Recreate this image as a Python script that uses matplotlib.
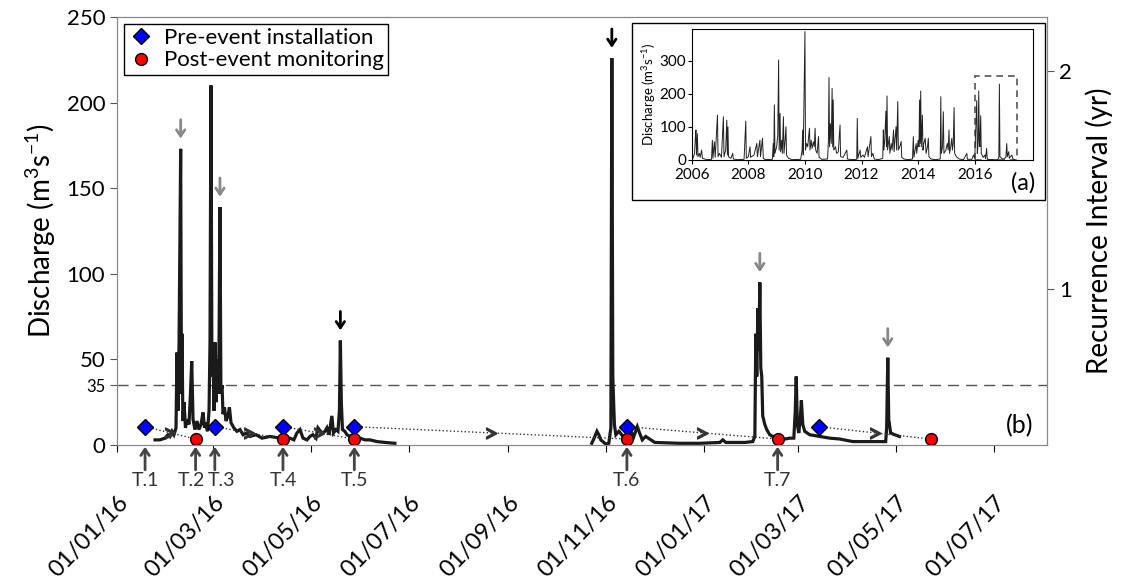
import matplotlib
matplotlib.use('Agg')
from matplotlib import pyplot as plt
from matplotlib.lines import Line2D
from matplotlib.patches import Rectangle
import matplotlib.dates as mdates
import numpy as np
import pandas as pd

plt.rcParams['font.family'] = ['Lato', 'DejaVu Sans']
plt.rcParams['mathtext.default'] = 'regular'

START = pd.Timestamp('2016-01-01')

# discharge record (days since 01/01/16, m3/s) - first wet season
wet_days = [23.7, 26.8, 29.9, 31.8, 33.0, 34.3, 35.5, 36.8, 37.4, 38.0, 38.7, 39.7,
            40.2, 40.5, 41.1, 41.8, 42.7, 43.6, 44.9, 45.8, 46.6, 47.4, 48.6, 49.9,
            51.1, 52.4, 53.6, 54.6, 55.5, 56.4, 57.4, 58.0, 58.6, 59.2, 59.9, 60.5,
            61.1, 61.7, 62.3, 63.0, 63.6, 64.2, 64.8, 65.5, 66.1, 67.0, 68.0, 69.2,
            70.1, 71.1, 72.9, 74.8, 76.7, 78.6, 81.0, 82.9, 86.7, 90.4, 95.4, 101.6,
            107.9, 110.3, 112.2, 114.1, 116.0, 118.5, 120.3, 122.2, 124.1, 125.3,
            127.8, 129.7, 130.9, 132.2, 134.0, 135.0, 136.5, 137.8, 138.7, 139.3,
            139.9, 140.6, 142.1, 143.4, 145.3, 147.1, 149.6, 151.5, 154.6, 157.7,
            162.1, 167.1, 173.3]
wet_q = [3, 3, 4, 6, 5, 8, 6, 10, 54, 20, 60, 173,
         30, 65, 14, 25, 10, 15, 12, 30, 49, 15, 9, 14,
         9, 12, 19, 10, 13, 8, 20, 60, 210, 40, 55, 20,
         60, 25, 50, 30, 55, 139, 30, 35, 18, 22, 14, 17,
         22, 13, 10, 8, 9, 6, 7, 5, 6, 4, 5, 4,
         4, 3, 7, 9, 4, 3, 5, 6, 4, 10,
         7, 8, 10, 6, 17, 7, 9, 8, 20, 61,
         25, 9, 8, 6, 5, 6, 4, 4, 3, 3,
         2, 1.5, 1]

# second season
late_days = [296.1, 298.0, 299.3, 300.5, 301.7, 303.0, 304.9, 306.7, 308.0, 308.6,
             309.2, 310.2, 311.1, 313.0, 314.8, 316.7, 318.6, 320.4, 322.3, 324.5,
             325.9, 327.6, 329.7, 335.4, 351.0, 363.5, 376.0, 377.8, 379.7, 391.5,
             396.5, 397.8, 398.4, 399.0, 399.7, 400.3, 400.9, 401.5, 402.1, 402.7,
             404.0, 405.2, 407.1, 409.0, 412.1, 416.5, 419.6, 422.1, 423.0, 423.6,
             424.3, 425.2, 426.1, 426.8, 427.7, 428.9, 432.0, 438.3, 444.5, 450.7,
             458.9, 469.5, 479.4, 480.0, 480.7, 481.3, 482.5, 485.0, 488.0]
late_q = [1, 5, 8, 6, 3, 2, 0.5, 1, 10, 226,
          40, 12, 6, 8, 6, 3, 6, 8, 5, 10.7,
          7, 3, 5, 1.5, 1, 1, 1.5, 3, 1.5, 1.5,
          2, 5, 65, 40, 80, 55, 95, 45, 40, 17,
          12, 9, 6, 5, 3.5, 3.5, 4, 4, 20, 40,
          12, 7, 15, 26, 12, 8, 6, 5, 4, 3.5,
          2, 2, 2, 10, 51, 15, 7, 6, 5]

install_days = [17.5, 61, 103.5, 148, 318, 437.7]
monitor_days = [49, 103.5, 148, 318, 412, 507.5]
install_q = 10.7
monitor_q = 3.5

survey_names = ['T.1', 'T.2', 'T.3', 'T.4', 'T.5', 'T.6', 'T.7']
survey_days = [17.5, 49, 61, 103.5, 148, 318, 412]

peak_days = [39.7, 64.2, 139.3, 308.6, 400.9, 480.7]
peak_q = [173, 139, 61, 226, 95, 51]
peak_colors = ['#888888', '#888888', 'black', 'black', '#888888', '#888888']

# long record for the inset (decimal year, m3/s)
inset_year = [2006.00, 2006.05, 2006.10, 2006.13, 2006.15, 2006.17, 2006.20, 2006.22, 2006.27, 2006.30,
              2006.35, 2006.38, 2006.45, 2006.55, 2006.70, 2006.73, 2006.75, 2006.80, 2006.83, 2006.91,
              2006.93, 2006.98, 2007.05, 2007.12, 2007.14, 2007.20, 2007.24, 2007.26, 2007.28, 2007.30,
              2007.38, 2007.45, 2007.47, 2007.60, 2007.85, 2007.91, 2007.93, 2008.00, 2008.06, 2008.08,
              2008.20, 2008.30, 2008.32, 2008.41, 2008.43, 2008.50, 2008.53, 2008.60, 2008.85, 2008.88,
              2008.90, 2008.92, 2008.94, 2009.00, 2009.04, 2009.07, 2009.09, 2009.12, 2009.14, 2009.18,
              2009.20, 2009.24, 2009.26, 2009.30, 2009.33, 2009.35, 2009.42, 2009.55, 2009.85, 2009.90,
              2009.92, 2009.94, 2010.00, 2010.02, 2010.06, 2010.10, 2010.13, 2010.16, 2010.18, 2010.22,
              2010.25, 2010.30, 2010.33, 2010.36, 2010.38, 2010.43, 2010.48, 2010.50, 2010.60, 2010.80,
              2010.83, 2010.85, 2010.87, 2010.90, 2010.93, 2010.96, 2010.98, 2011.00, 2011.02, 2011.08,
              2011.12, 2011.18, 2011.24, 2011.26, 2011.35, 2011.48, 2011.50, 2011.65, 2011.83, 2011.85,
              2011.87, 2011.92, 2011.95, 2011.97, 2012.05, 2012.10, 2012.21, 2012.23, 2012.33, 2012.35,
              2012.40, 2012.45, 2012.60, 2012.75, 2012.77, 2012.79, 2012.82, 2012.86, 2012.88, 2012.90,
              2012.92, 2012.98, 2013.00, 2013.05, 2013.08, 2013.13, 2013.15, 2013.18, 2013.22, 2013.24,
              2013.28, 2013.30, 2013.35, 2013.40, 2013.42, 2013.50, 2013.65, 2013.80, 2013.83, 2013.85,
              2013.93, 2013.95, 2014.00, 2014.03, 2014.05, 2014.07, 2014.09, 2014.11, 2014.15, 2014.17,
              2014.20, 2014.25, 2014.28, 2014.33, 2014.36, 2014.38, 2014.45, 2014.60, 2014.78, 2014.80,
              2014.82, 2014.86, 2014.89, 2014.91, 2014.98, 2015.03, 2015.06, 2015.09, 2015.11, 2015.15,
              2015.19, 2015.21, 2015.24, 2015.27, 2015.29, 2015.35, 2015.45, 2015.60, 2015.72, 2015.74,
              2015.90, 2015.95, 2016.00, 2016.07, 2016.09, 2016.12, 2016.14, 2016.16, 2016.18, 2016.21,
              2016.23, 2016.30, 2016.36, 2016.38, 2016.42, 2016.44, 2016.48, 2016.80, 2016.85, 2016.87,
              2016.89, 2016.95, 2017.00, 2017.10, 2017.13, 2017.15, 2017.20, 2017.22, 2017.31, 2017.35,
              2017.40]
inset_q = [10, 5, 20, 70, 91, 15, 80, 10, 20, 8,
           30, 5, 3, 1, 2, 60, 5, 55, 8, 136,
           10, 20, 8, 131, 10, 30, 121, 15, 100, 10,
           5, 20, 3, 1, 2, 118, 5, 10, 40, 8,
           15, 50, 10, 60, 10, 66, 5, 1, 2, 50,
           10, 167, 20, 40, 75, 303, 30, 141, 25, 60,
           20, 131, 20, 60, 101, 15, 5, 1, 2, 30,
           91, 15, 389, 30, 50, 40, 70, 96, 30, 60,
           35, 55, 40, 96, 30, 20, 71, 8, 2, 3,
           60, 250, 40, 110, 50, 217, 40, 182, 30, 40,
           20, 25, 106, 10, 8, 30, 3, 1, 2, 126,
           5, 20, 30, 8, 15, 8, 40, 10, 71, 10,
           20, 3, 1, 5, 91, 30, 60, 148, 40, 194,
           30, 71, 20, 50, 30, 91, 25, 60, 101, 30,
           177, 30, 40, 56, 8, 3, 1, 3, 71, 8,
           50, 20, 60, 40, 182, 50, 209, 40, 136, 30,
           50, 66, 20, 40, 66, 10, 3, 1, 3, 192,
           20, 40, 146, 20, 30, 50, 30, 91, 20, 40,
           66, 30, 50, 159, 20, 10, 3, 1, 20, 2,
           2, 15, 5, 180, 20, 50, 209, 60, 40, 134,
           20, 8, 15, 5, 35, 5, 1, 1, 5, 230,
           10, 5, 2, 8, 50, 10, 25, 5, 15, 3,
           1]


def to_date(days):
    return START + pd.to_timedelta(np.asarray(days, dtype=float), unit='D')


fig = plt.figure(figsize=(11.24, 5.83), dpi=100)
ax = fig.add_axes([0.1041, 0.2367, 0.8274, 0.7341])

line_kw = dict(color='#1a1a1a', lw=2.3, solid_joinstyle='miter', zorder=3)
ax.plot(to_date(wet_days), wet_q, **line_kw)
ax.plot(to_date(late_days), late_q, **line_kw)

ax.axhline(35, color='#555555', lw=1, dashes=(8, 5), zorder=1)

# dotted links installation -> monitoring
for d0, d1 in zip(install_days, monitor_days):
    ax.plot(to_date([d0, d1]), [install_q, monitor_q], ls=':', color='#333333', lw=1, zorder=4)
    dm = (d0 + d1) / 2
    ax.plot(to_date([dm]), [(install_q + monitor_q) / 2], marker='$>$', ms=8,
            color='#333333', ls='none', zorder=4)

ax.plot(to_date(install_days), [install_q] * len(install_days), ls='none', marker='D',
        ms=8, mfc='#0000ff', mec='black', mew=1, zorder=5)
ax.plot(to_date(monitor_days), [monitor_q] * len(monitor_days), ls='none', marker='o',
        ms=8.5, mfc='#ff0000', mec='black', mew=1, zorder=5)

# arrows over the flood peaks
for d, q, c in zip(peak_days, peak_q, peak_colors):
    ax.annotate('', xy=(to_date([d])[0], q + 6), xytext=(to_date([d])[0], q + 17),
                arrowprops=dict(arrowstyle='->,head_width=0.3,head_length=0.45',
                                color=c, lw=2, shrinkA=0, shrinkB=0))

# survey arrows below the axis
label_shift = {'T.2': -3, 'T.3': 5}
for name, d in zip(survey_names, survey_days):
    x = to_date([d])[0]
    ax.annotate('', xy=(x, -0.004), xytext=(x, -0.058),
                xycoords=('data', 'axes fraction'), textcoords=('data', 'axes fraction'),
                arrowprops=dict(arrowstyle='->,head_width=0.3,head_length=0.45',
                                color='#444444', lw=2, shrinkA=0, shrinkB=0),
                annotation_clip=False)
    ax.annotate(name, xy=(x, -0.062), xycoords=('data', 'axes fraction'),
                xytext=(label_shift.get(name, 0), 0), textcoords='offset points',
                ha='center', va='top', fontsize=14, color='#333333', annotation_clip=False)

ax.set_xlim(START, START + pd.Timedelta(days=580))
ax.set_ylim(0, 250)
ax.set_yticks([0, 35, 50, 100, 150, 200, 250])
ax.set_yticklabels(['0', '35', '50', '100', '150', '200', '250'])
for lab in ax.get_yticklabels():
    lab.set_fontsize(12 if lab.get_text() == '35' else 16)

tick_dates = pd.date_range('2016-01-01', '2017-07-01', freq='2MS')
ax.set_xticks(tick_dates)
ax.xaxis.set_major_formatter(mdates.DateFormatter('%d/%m/%y'))
ax.tick_params(axis='x', direction='out', length=5, pad=29, labelsize=17)
plt.setp(ax.get_xticklabels(), rotation=46, ha='right', rotation_mode='anchor')
ax.tick_params(axis='y', direction='out', length=5, colors='#555555', labelcolor='black')

for sp in ax.spines.values():
    sp.set_color('#888888')

ax.set_ylabel('Discharge (m$^3$s$^{-1}$)', fontsize=20, labelpad=6)
ax.text(0.985, 0.045, '(b)', transform=ax.transAxes, ha='right', va='center', fontsize=18)

handles = [Line2D([], [], ls='none', marker='D', ms=8, mfc='#0000ff', mec='black'),
           Line2D([], [], ls='none', marker='o', ms=8.5, mfc='#ff0000', mec='black')]
leg = ax.legend(handles, ['Pre-event installation', 'Post-event monitoring'], loc='upper left',
                fontsize=16, frameon=True, fancybox=False, edgecolor='black', framealpha=1,
                borderaxespad=0.3, handletextpad=0.4, borderpad=0.2, labelspacing=0.1,
                handlelength=1.2)
leg.get_frame().set_linewidth(1)

ax2 = ax.twinx()
ax2.set_ylim(0.28, 2.25)
ax2.set_yticks([1, 2])
ax2.tick_params(axis='y', direction='out', length=5, labelsize=16, colors='#555555',
                labelcolor='black')
ax2.set_ylabel('Recurrence Interval (yr)', fontsize=20, labelpad=10)
for sp in ax2.spines.values():
    sp.set_color('#888888')

# inset frame and inset axes
ax.add_patch(Rectangle((0.5623, 0.657), 0.3674, 0.3036, transform=fig.transFigure,
                       facecolor='white', edgecolor='black', lw=1, zorder=20, clip_on=False))
axi = fig.add_axes([0.6154, 0.7256, 0.3037, 0.2247])
axi.plot(inset_year, inset_q, color='#222222', lw=0.7)
axi.add_patch(Rectangle((2016.0, 0), 1.5, 255, fill=False, edgecolor='#555555',
                        ls=(0, (4, 3)), lw=1.2, clip_on=False))
axi.set_xlim(2006, 2018.06)
axi.set_ylim(0, 397)
axi.set_xticks(range(2006, 2017, 2))
axi.set_yticks([0, 100, 200, 300])
axi.tick_params(labelsize=11, length=3, pad=1)
axi.tick_params(axis='x', pad=2.5)
axi.set_ylabel('Discharge (m$^3$s$^{-1}$)', fontsize=9.5, labelpad=1)
fig.text(0.91, 0.687, '(a)', fontsize=17, ha='center', va='center')

fig.savefig('out.png', dpi=100)
